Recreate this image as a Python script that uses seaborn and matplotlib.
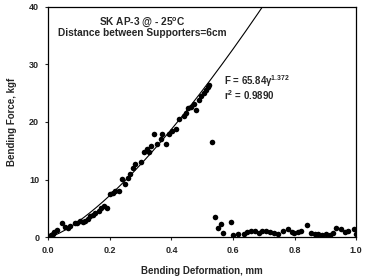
import numpy as np
import pandas as pd
import matplotlib
matplotlib.use("Agg")
import matplotlib.pyplot as plt
import seaborn as sns

# measured points: deformation (mm) vs bending force (kgf)
deform = [
    0.0, 0.005, 0.01, 0.015, 0.02, 0.03, 0.045, 0.055, 0.065, 0.072, 0.088,
    0.095, 0.104, 0.112, 0.12, 0.13, 0.137, 0.145, 0.153, 0.164, 0.172, 0.18,
    0.191, 0.202, 0.21, 0.218, 0.229, 0.24, 0.25, 0.258, 0.267, 0.275, 0.283,
    0.3, 0.31, 0.321, 0.327, 0.335, 0.343, 0.354, 0.365, 0.37, 0.384,
    0.392, 0.403, 0.414, 0.424, 0.44, 0.448, 0.455, 0.465, 0.473,
    0.479, 0.488, 0.495, 0.505, 0.512, 0.518, 0.521, 0.533,
    0.54, 0.55, 0.56, 0.566, 0.593, 0.6, 0.615, 0.635, 0.645, 0.658, 0.67,
    0.684, 0.695, 0.707, 0.72, 0.733, 0.745, 0.762, 0.778, 0.79, 0.798,
    0.81, 0.821, 0.84, 0.853, 0.865, 0.876, 0.89, 0.902, 0.915, 0.925,
    0.935, 0.951, 0.962, 0.974, 0.993, 1.0,
]
force = [
    0.0, 0.2, 0.4, 0.6, 0.8, 1.3, 2.5, 1.8, 1.6, 1.9, 2.5,
    2.4, 2.8, 2.7, 2.8, 3.2, 3.7, 3.9, 4.2, 4.5, 5.0, 5.4,
    5.1, 7.5, 7.7, 8.0, 8.0, 10.1, 9.2, 10.2, 11.0, 12.0, 12.7,
    13.0, 14.7, 15.3, 14.7, 15.9, 18.0, 16.2, 17.1, 18.0, 16.2,
    17.9, 18.5, 18.8, 20.6, 21.1, 21.6, 22.4, 22.6, 23.1,
    22.0, 23.9, 24.6, 25.1, 25.6, 26.0, 26.4, 16.5,
    3.5, 1.6, 2.3, 0.7, 2.6, 0.3, 0.5, 0.5, 0.9, 1.0, 1.1,
    0.7, 1.0, 1.0, 0.8, 0.7, 0.5, 1.0, 1.4, 0.9, 0.7,
    0.8, 1.0, 2.1, 0.7, 0.6, 0.5, 0.4, 0.5, 0.4, 0.7,
    1.6, 1.4, 0.9, 1.0, 1.4, 0.5,
]

# power-law fit shown on the chart
coef_a = 65.84
coef_b = 1.372

df = pd.DataFrame({"deform": deform, "force": force})
fit_x = np.linspace(0, 0.72, 200)
fit = pd.DataFrame({"deform": fit_x, "force": coef_a * fit_x ** coef_b})

sns.set_style("ticks")
plt.rcParams["font.family"] = ["Liberation Sans", "DejaVu Sans"]

fig = plt.figure(figsize=(3.68, 2.76), dpi=100)
ax = fig.add_axes([0.131, 0.141, 0.837, 0.834])

sns.lineplot(data=fit, x="deform", y="force", color="black", linewidth=0.8, ax=ax)
sns.scatterplot(data=df, x="deform", y="force", color="black", s=16,
                edgecolor="black", linewidth=0, ax=ax, zorder=3)

ax.set_xlim(0, 1.0)
ax.set_ylim(0, 40)
ax.set_xticks([0.0, 0.2, 0.4, 0.6, 0.8, 1.0])
ax.set_xticklabels(["0.0", "0.2", "0.4", "0.6", "0.8", "1.0"])
ax.set_yticks([0, 10, 20, 30, 40])
ax.tick_params(labelsize=6.5, length=2.5, width=0.8, pad=4)
for lab in ax.get_xticklabels() + ax.get_yticklabels():
    lab.set_fontweight("bold")
for sp in ax.spines.values():
    sp.set_visible(True)
    sp.set_linewidth(0.9)
    sp.set_color("black")

ax.set_xlabel("Bending Deformation, mm", fontsize=7, fontweight="bold", labelpad=8)
ax.set_ylabel("Bending Force, kgf", fontsize=7, fontweight="bold", labelpad=9)

ax.text(0.306, 37.4, "SK AP-3 @ - 25$^{\\mathregular{o}}$C", fontsize=7.3,
        fontweight="bold", ha="center", va="center")
ax.text(0.306, 35.4, "Distance between Supporters=6cm", fontsize=7.3,
        fontweight="bold", ha="center", va="center")
ax.text(0.57, 27.1, "F = 65.84$\\mathregular{\\gamma}^{\\mathregular{1.372}}$", fontsize=7,
        fontweight="bold", ha="left", va="center")
ax.text(0.57, 24.7, "r$^{\\mathregular{2}}$ = 0.9890", fontsize=7,
        fontweight="bold", ha="left", va="center")

fig.savefig("out.png", dpi=100)
